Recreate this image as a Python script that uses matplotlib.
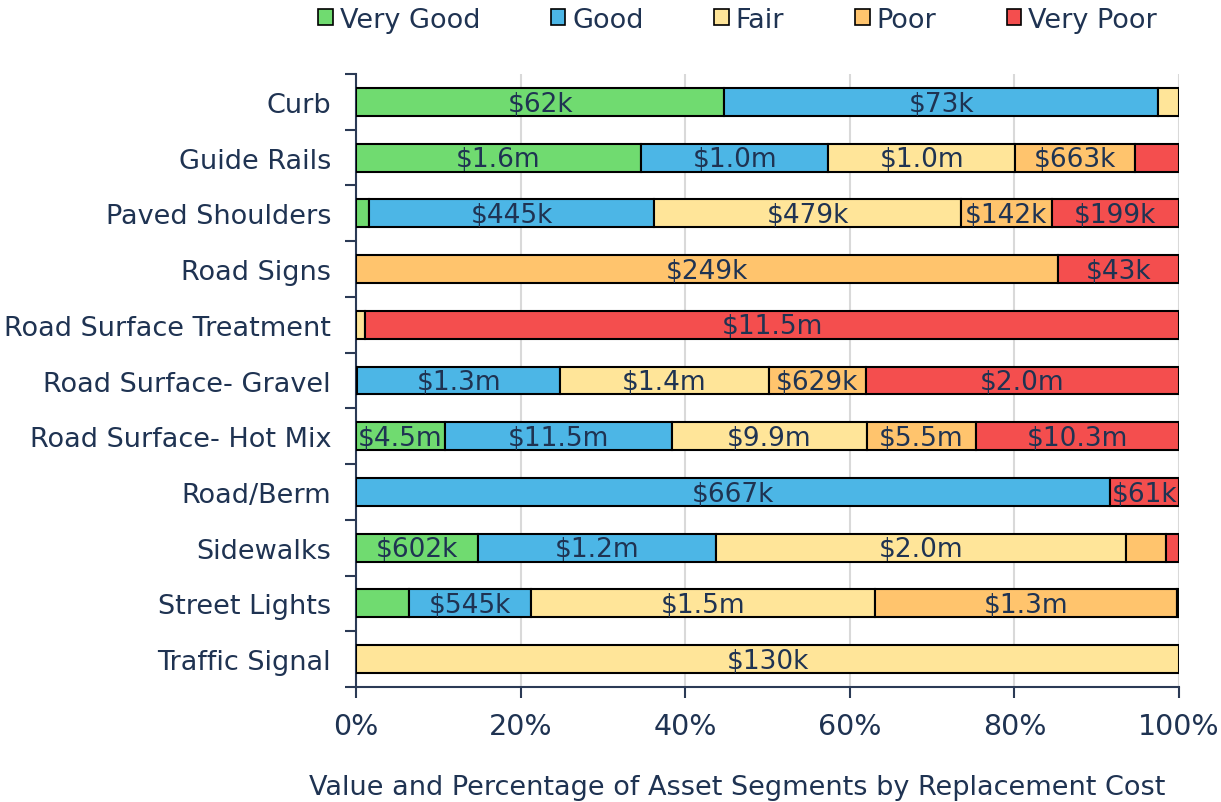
import matplotlib
matplotlib.use("Agg")
import matplotlib.pyplot as plt
from matplotlib.patches import Patch
import numpy as np

# Replacement cost per condition rating, in $ thousands
categories = [
    "Curb",
    "Guide Rails",
    "Paved Shoulders",
    "Road Signs",
    "Road Surface Treatment",
    "Road Surface- Gravel",
    "Road Surface- Hot Mix",
    "Road/Berm",
    "Sidewalks",
    "Street Lights",
    "Traffic Signal",
]
conditions = ["Very Good", "Good", "Fair", "Poor", "Very Poor"]
very_good = [62, 1570, 21, 0, 0, 8, 4500, 0, 602, 234, 0]
good = [73, 1030, 445, 0, 0, 1320, 11500, 667, 1180, 545, 0]
fair = [3.5, 1030, 479, 0, 130, 1360, 9900, 0, 2030, 1530, 130]
poor = [0, 663, 142, 249, 0, 629, 5500, 0, 200, 1340, 0]
very_poor = [0, 240, 199, 43, 11500, 2040, 10300, 61, 65, 10, 0]

colors = ["#70DB70", "#4CB6E6", "#FFE599", "#FFC46D", "#F44E4E"]
TEXT = "#1F3352"
AXIS = "#2B3A55"
FS = 19.5


def fmt_value(v):
    if v >= 1000:
        return f"${v / 1000:.1f}m"
    return f"${v:.0f}k"


values = np.array([very_good, good, fair, poor, very_poor], dtype=float)
totals = values.sum(axis=0)
pcts = values / totals * 100

fig = plt.figure(figsize=(12.21, 8.03), dpi=100)
ax = fig.add_axes([0.2916, 0.1432, 0.9656 - 0.2916, 0.9066 - 0.1432])

y = np.arange(len(categories))
left = np.zeros(len(categories))
for i, cond in enumerate(conditions):
    for j in range(len(categories)):
        w = pcts[i, j]
        if w <= 0:
            continue
        ax.barh(y[j], w, left=left[j], height=0.5, color=colors[i],
                edgecolor="black", linewidth=1.5, zorder=3)
        # only label segments wide enough to hold the text
        if w >= 7:
            ax.text(left[j] + w / 2, y[j] + 0.03, fmt_value(values[i, j]),
                    ha="center", va="center", fontsize=19, color=TEXT,
                    zorder=4)
    left += pcts[i]

ax.set_xlim(0, 100)
ax.set_ylim(len(categories) - 0.5, -0.5)
ax.set_xticks(np.arange(0, 101, 20))
ax.set_xticklabels([f"{t}%" for t in range(0, 101, 20)])
ax.set_yticks(y)
ax.set_yticklabels(categories)
ax.set_yticks(np.arange(-0.5, len(categories), 1), minor=True)
ax.tick_params(axis="y", which="major", length=0, pad=18, labelsize=FS,
               labelcolor=TEXT)
ax.tick_params(axis="y", which="minor", length=8, width=1.5, color=AXIS)
ax.tick_params(axis="x", length=8, width=1.5, color=AXIS, pad=10,
               labelsize=20.5, labelcolor=TEXT)
ax.grid(axis="x", color="#D9D9D9", linewidth=1.5, zorder=0)
for s in ["top", "right"]:
    ax.spines[s].set_visible(False)
for s in ["left", "bottom"]:
    ax.spines[s].set_color(AXIS)
    ax.spines[s].set_linewidth(1.5)

fig.text(0.604, 0.002, "Value and Percentage of Asset Segments by Replacement Cost",
         ha="center", va="bottom", fontsize=FS, color=TEXT)

handles = [Patch(facecolor=c, edgecolor="black", linewidth=1.2) for c in colors]
leg = fig.legend(handles, conditions, loc="upper center",
                 bbox_to_anchor=(0.604, 1.021), ncol=5, frameon=False,
                 fontsize=FS, handlelength=0.55, handleheight=0.55,
                 handletextpad=0.25, columnspacing=2.6)
for t in leg.get_texts():
    t.set_color(TEXT)

fig.savefig("out.png", dpi=100)
